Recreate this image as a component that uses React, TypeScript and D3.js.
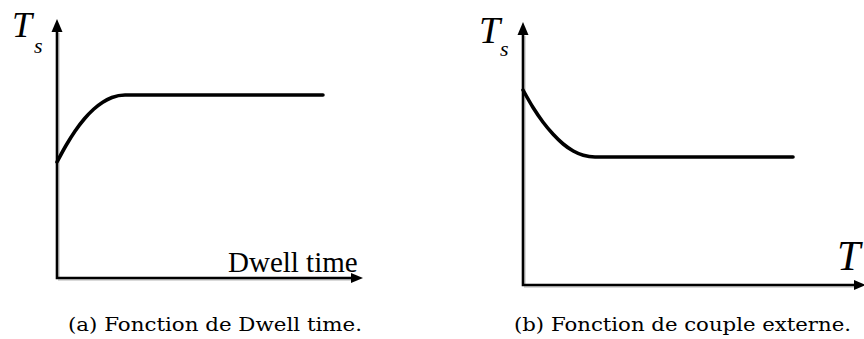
import React from "react";
import * as d3 from "d3";

// Panel (a): Ts as a function of dwell time
const dwellTime = [0, 0.3, 0.6, 0.9, 1.2, 1.5, 1.8, 2.23, 8.72];
const dwellTs = [4.64, 5.31, 5.89, 6.37, 6.75, 7.03, 7.22, 7.32, 7.32];

// Panel (b): Ts as a function of the external torque T
const torque = [0, 0.3, 0.6, 0.9, 1.2, 1.5, 1.8, 2.15, 8.06];
const torqueTs = [7.8, 7.1, 6.51, 6.03, 5.64, 5.36, 5.19, 5.12, 5.12];

const captions = ["(a) Fonction de Dwell time.", "(b) Fonction de couple externe."];
const xTitles = ["Dwell time", "T"];

const W = 864;
const H = 339;

type Panel = {
  x0: number;
  x1: number;
  yBottom: number;
  yTop: number;
  tipY: number;
  arrowEnd: number;
  xs: number[];
  ys: number[];
};

const panels: Panel[] = [
  { x0: 57, x1: 362, yBottom: 278, yTop: 28, tipY: 19, arrowEnd: 363, xs: dwellTime, ys: dwellTs },
  { x0: 523, x1: 858, yBottom: 285, yTop: 35, tipY: 22, arrowEnd: 866, xs: torque, ys: torqueTs },
];

function Axes({ p }: { p: Panel }) {
  const x = d3.scaleLinear().domain([0, 10]).range([p.x0, p.x1]);
  const y = d3.scaleLinear().domain([0, 10]).range([p.yBottom, p.yTop]);
  const pts: [number, number][] = p.xs.map((v, i) => [v, p.ys[i]]);
  const line = d3
    .line<[number, number]>()
    .x((d) => x(d[0]))
    .y((d) => y(d[1]))
    .curve(d3.curveMonotoneX);
  const ax = p.x0;
  const tipY = p.tipY;
  return (
    <g>
      {/* soft shadow under the axes */}
      <path
        d={`M${ax + 2},${tipY + 14} L${ax + 2},${p.yBottom + 2} L${p.arrowEnd - 8},${p.yBottom + 2}`}
        fill="none"
        stroke="#d9d9d9"
        strokeWidth={2}
      />
      <path
        d={`M${ax},${tipY + 10} L${ax},${p.yBottom} L${p.arrowEnd - 10},${p.yBottom}`}
        fill="none"
        stroke="#000"
        strokeWidth={2.6}
      />
      {/* vertical arrowhead */}
      <path d={`M${ax},${tipY} L${ax - 5.5},${tipY + 13} L${ax + 5.5},${tipY + 13} Z`} fill="#000" />
      {/* horizontal arrowhead */}
      <path
        d={`M${p.arrowEnd},${p.yBottom} L${p.arrowEnd - 12},${p.yBottom - 5} L${p.arrowEnd - 12},${p.yBottom + 5} Z`}
        fill="#000"
      />
      <path
        d={line(pts) ?? ""}
        fill="none"
        stroke="#000"
        strokeWidth={3.6}
        strokeLinecap="round"
        strokeLinejoin="round"
      />
    </g>
  );
}

export default function App() {
  return (
    <svg
      width={W}
      height={H}
      viewBox={`0 0 ${W} ${H}`}
      style={{ position: "absolute", left: 0, top: 0, display: "block", background: "#fff" }}
    >
      {panels.map((p, i) => (
        <Axes key={i} p={p} />
      ))}

      {/* Ts labels */}
      <text x={12} y={37} fontFamily="Liberation Serif" fontStyle="italic" fontSize={36}>
        T
      </text>
      <text x={34} y={53} fontFamily="Liberation Serif" fontStyle="italic" fontSize={22}>
        s
      </text>
      <text x={479} y={43} fontFamily="Liberation Serif" fontStyle="italic" fontSize={38}>
        T
      </text>
      <text x={500} y={56} fontFamily="Liberation Serif" fontStyle="italic" fontSize={22}>
        s
      </text>

      {/* x titles */}
      <text x={228} y={272} fontFamily="Liberation Serif" fontSize={29}>
        {xTitles[0]}
      </text>
      <text x={837} y={270} fontFamily="Liberation Serif" fontStyle="italic" fontSize={42}>
        {xTitles[1]}
      </text>

      {/* captions */}
      <text x={68} y={331} fontFamily="DejaVu Serif" fontSize={18} textLength={294} lengthAdjust="spacingAndGlyphs">
        {captions[0]}
      </text>
      <text x={514} y={331} fontFamily="DejaVu Serif" fontSize={18} textLength={337} lengthAdjust="spacingAndGlyphs">
        {captions[1]}
      </text>
    </svg>
  );
}
